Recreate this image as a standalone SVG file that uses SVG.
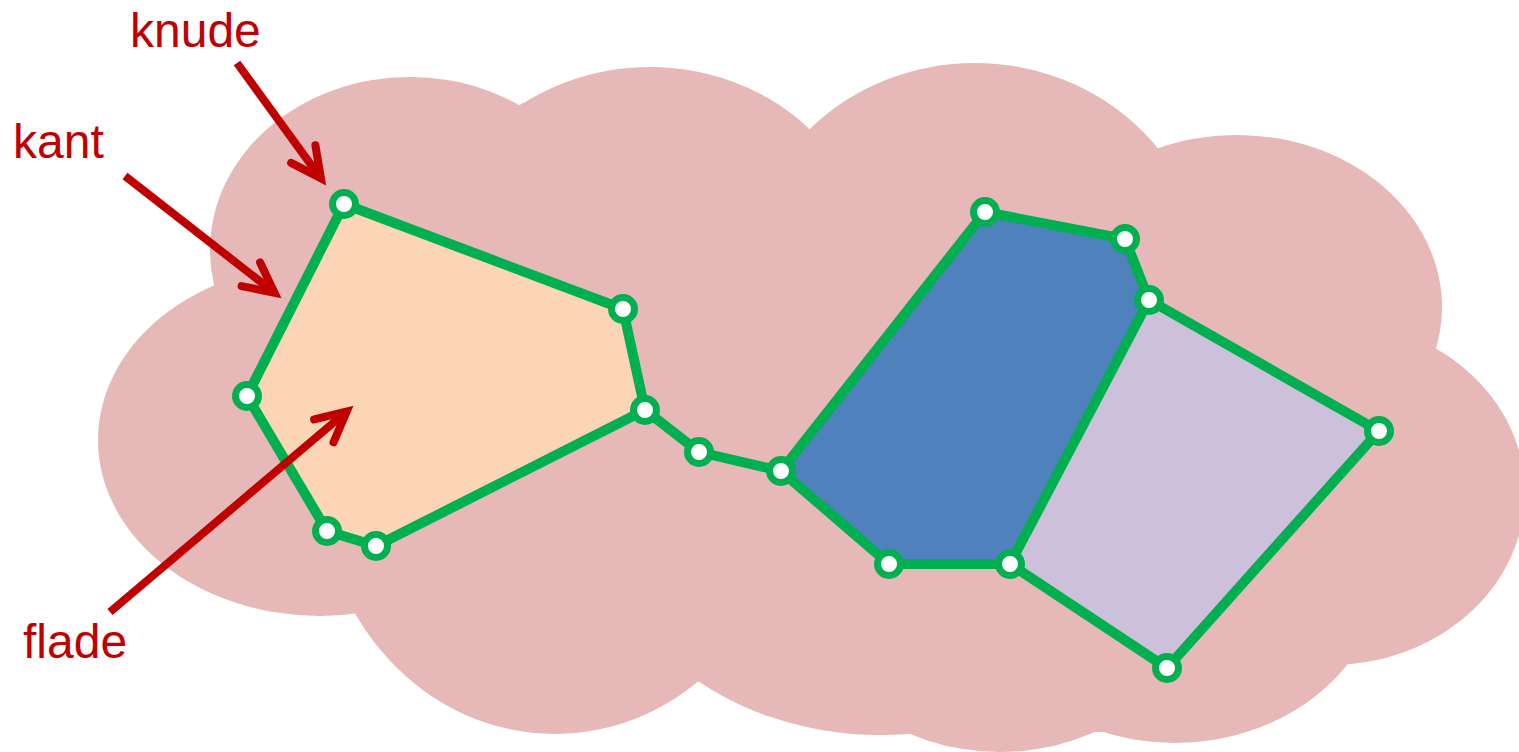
<svg xmlns="http://www.w3.org/2000/svg" width="1519" height="752" viewBox="0 0 1519 752">
<style>
.cloud{fill:#E6B8B7}
.edge{fill:none;stroke:#00B050;stroke-width:10;stroke-linecap:round;stroke-linejoin:round}
.node{fill:#FFFFFF;stroke:#00B050;stroke-width:7}
.arrow{fill:none;stroke:#C00000;stroke-width:8;stroke-linecap:butt}
.label{font-family:"Liberation Sans",Arial,sans-serif;font-size:48px;fill:#C00000}
</style>
<defs>
<marker id="head" markerUnits="userSpaceOnUse" viewBox="-45 -25 60 50" markerWidth="60" markerHeight="50" refX="0" refY="0" orient="auto" overflow="visible">
<path d="M-30,-15 L0,0 L-30,15" fill="none" stroke="#C00000" stroke-width="8" stroke-linecap="round" stroke-linejoin="miter"/>
</marker>
</defs>
<g id="cloud" class="cloud">
<polygon points="215,290 523,103 810,130 1153,149 1436,349 1348,663 1103,732 910,734 700,682 353,610"/>
<ellipse cx="410" cy="250" rx="200" ry="173"/>
<ellipse cx="650" cy="260" rx="217" ry="193"/>
<ellipse cx="975" cy="280" rx="230" ry="217"/>
<ellipse cx="1237" cy="307" rx="205" ry="172"/>
<ellipse cx="1330" cy="493" rx="195" ry="172"/>
<ellipse cx="1175" cy="560" rx="210" ry="183"/>
<ellipse cx="1000" cy="600" rx="190" ry="152"/>
<ellipse cx="880" cy="500" rx="285" ry="235"/>
<ellipse cx="555" cy="480" rx="235" ry="254"/>
<ellipse cx="320" cy="440" rx="222" ry="176"/>
</g>
<g id="faces">
<polygon id="face-left" points="344,204 623,309 645,410 376,546 327,531 247,396" fill="#FBD5B5"/>
<polygon id="face-blue" points="781,471 985,212 1125,239 1149,300 1010,564 889,564" fill="#4F81BD"/>
<polygon id="face-purple" points="1149,300 1379,431 1167,668 1010,564" fill="#CCC0DA"/>
</g>
<g id="connectors">
<path class="edge" d="M344,204 L623,309 L645,410 L376,546 L327,531 L247,396 Z"/>
<path class="edge" d="M645,410 L699,452 L781,471"/>
<path class="edge" d="M781,471 L985,212 L1125,239 L1149,300 L1010,564 L889,564 Z"/>
<path class="edge" d="M1149,300 L1379,431 L1167,668 L1010,564"/>
<path class="arrow" d="M237,63 L320.9,178.3" marker-end="url(#head)"/>
<path class="arrow" d="M125,176 L274.5,292.7" marker-end="url(#head)"/>
<path class="arrow" d="M110,612 L346.7,411.5" marker-end="url(#head)"/>
</g>
<g id="n1"><circle class="node" cx="344" cy="204" r="11.5"/></g>
<g id="n2"><circle class="node" cx="623" cy="309" r="11.5"/></g>
<g id="n3"><circle class="node" cx="645" cy="410" r="11.5"/></g>
<g id="n4"><circle class="node" cx="247" cy="396" r="11.5"/></g>
<g id="n5"><circle class="node" cx="327" cy="531" r="11.5"/></g>
<g id="n6"><circle class="node" cx="376" cy="546" r="11.5"/></g>
<g id="n7"><circle class="node" cx="699" cy="452" r="11.5"/></g>
<g id="n8"><circle class="node" cx="781" cy="471" r="11.5"/></g>
<g id="n9"><circle class="node" cx="985" cy="212" r="11.5"/></g>
<g id="n10"><circle class="node" cx="1125" cy="239" r="11.5"/></g>
<g id="n11"><circle class="node" cx="1149" cy="300" r="11.5"/></g>
<g id="n12"><circle class="node" cx="1379" cy="431" r="11.5"/></g>
<g id="n13"><circle class="node" cx="1167" cy="668" r="11.5"/></g>
<g id="n14"><circle class="node" cx="1010" cy="564" r="11.5"/></g>
<g id="n15"><circle class="node" cx="889" cy="564" r="11.5"/></g>
<g id="labels">
<text class="label" x="130" y="47">knude</text>
<text class="label" x="13" y="158">kant</text>
<text class="label" x="23" y="658">flade</text>
</g>
</svg>
